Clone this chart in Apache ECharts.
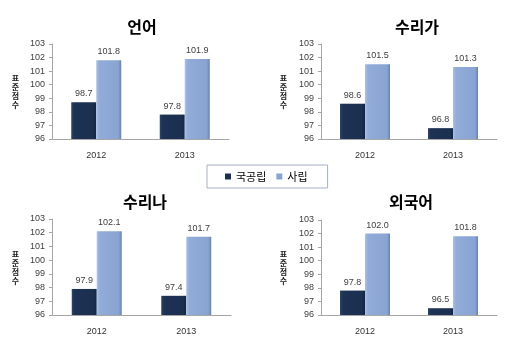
<!DOCTYPE html>
<html>
<head>
<meta charset="utf-8">
<script src="https://cdn.jsdelivr.net/npm/echarts@6/dist/echarts.min.js"></script>
<style>
  html, body { margin: 0; padding: 0; background: #fff; }
  #chart { width: 508px; height: 351px; }
</style>
</head>
<body>
<div id="chart"></div>
<script>
// data
const years = ['2012', '2013']
const subjects = ['언어', '수리가', '수리나', '외국어']
const seriesNames = ['국공립', '사립']
const publicScores = [[98.7, 97.8], [98.6, 96.8], [97.9, 97.4], [97.8, 96.5]]
const privateScores = [[101.8, 101.9], [101.5, 101.3], [102.1, 101.7], [102.0, 101.8]]
const yMin = 96
const yMax = 103
const yName = '표준점수'

// panel layout (px)
const panels = [
  { left: 52, top: 44, width: 177, height: 95, titleX: 142, titleY: 19 },
  { left: 321, top: 44, width: 176, height: 95, titleX: 417, titleY: 19 },
  { left: 52, top: 219, width: 179, height: 96, titleX: 145, titleY: 194 },
  { left: 321, top: 220, width: 176, height: 95, titleX: 411, titleY: 194 }
]

const numFont = '"Liberation Sans", Arial, sans-serif'
const krFont = '"Noto Sans CJK KR", sans-serif'

const darkColor = new echarts.graphic.LinearGradient(0, 0, 1, 0, [
  { offset: 0, color: '#2c4468' },
  { offset: 0.12, color: '#1d3254' },
  { offset: 0.88, color: '#1b2f4f' },
  { offset: 1, color: '#13243e' }
])
const lightColor = new echarts.graphic.LinearGradient(0, 0, 1, 0, [
  { offset: 0, color: '#a9c1e6' },
  { offset: 0.12, color: '#91acd9' },
  { offset: 0.88, color: '#89a4d1' },
  { offset: 1, color: '#6582b2' }
])

const chart = echarts.init(document.getElementById('chart'))

const grid = panels.map(p => ({ left: p.left, top: p.top, width: p.width, height: p.height }))

const title = panels.map((p, i) => ({
  text: subjects[i],
  left: p.titleX,
  top: p.titleY,
  textAlign: 'center',
  padding: 0,
  textStyle: { fontFamily: krFont, fontSize: 16, fontWeight: 'bold', color: '#000' }
}))

const xAxis = panels.map((p, i) => ({
  type: 'category',
  gridIndex: i,
  data: years,
  axisLine: { lineStyle: { color: '#a6a6a6' } },
  axisTick: { show: false },
  axisLabel: { color: '#333', fontSize: 9, fontFamily: numFont, margin: 12 }
}))

const yAxis = panels.map((p, i) => ({
  type: 'value',
  gridIndex: i,
  min: yMin,
  max: yMax,
  interval: 1,
  name: yName.split('').join('\n'),
  nameLocation: 'middle',
  nameRotate: 0,
  nameGap: i % 2 === 0 ? 33 : 34,
  nameTextStyle: { fontFamily: krFont, fontSize: 8, fontWeight: 'bold', color: '#222', lineHeight: 9 },
  axisLine: { show: true, lineStyle: { color: '#a6a6a6' } },
  axisTick: { show: true, length: 3, lineStyle: { color: '#a6a6a6' } },
  splitLine: { show: false },
  axisLabel: { color: '#404040', fontSize: 9, fontFamily: numFont, margin: 7 }
}))

const label = {
  show: true,
  position: 'top',
  distance: 4,
  fontSize: 9,
  fontFamily: numFont,
  color: '#404040',
  formatter: p => p.value.toFixed(1)
}

const series = []
panels.forEach((p, i) => {
  series.push({
    name: seriesNames[0],
    type: 'bar',
    xAxisIndex: i,
    yAxisIndex: i,
    data: publicScores[i],
    barWidth: 25,
    barGap: '0%',
    itemStyle: { color: darkColor },
    label
  })
  series.push({
    name: seriesNames[1],
    type: 'bar',
    xAxisIndex: i,
    yAxisIndex: i,
    data: privateScores[i],
    barWidth: 25,
    barGap: '0%',
    itemStyle: { color: lightColor },
    label
  })
})

chart.setOption({
  animation: false,
  backgroundColor: '#fff',
  title,
  legend: {
    data: [
      { name: seriesNames[0], itemStyle: { color: '#1b2f4f' } },
      { name: seriesNames[1], itemStyle: { color: '#89a4d1' } }
    ],
    left: 207,
    top: 165,
    padding: [6, 20, 6, 18],
    itemWidth: 6,
    itemHeight: 6,
    itemGap: 10,
    icon: 'rect',
    borderColor: '#a5b0c4',
    borderWidth: 1,
    textStyle: { fontFamily: krFont, fontSize: 11, color: '#000' }
  },
  grid,
  xAxis,
  yAxis,
  series
})
</script>
</body>
</html>
